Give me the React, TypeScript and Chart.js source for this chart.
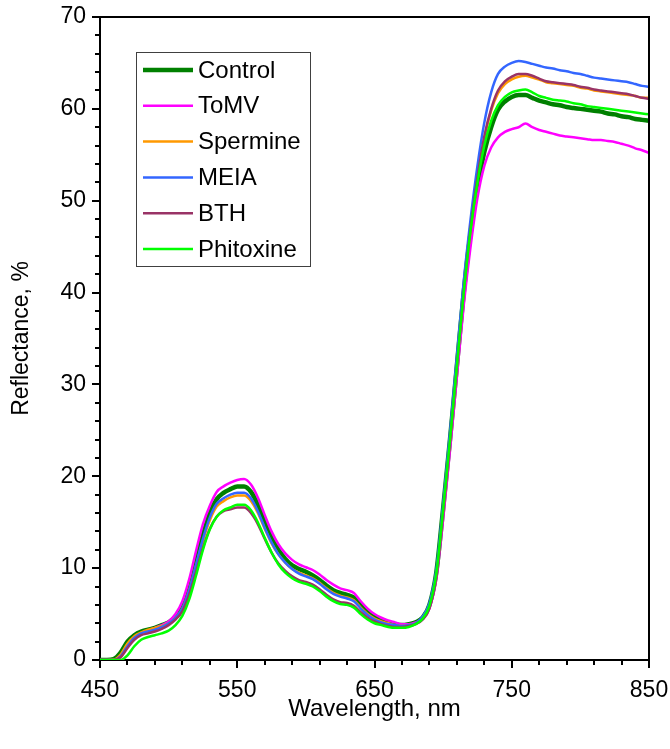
import React, { useEffect, useRef } from "react";
import { Chart, registerables } from "chart.js";

Chart.register(...registerables);

const wavelengths = [
  450, 455, 460, 465, 470, 475, 480, 485, 490, 495,
  500, 505, 510, 515, 520, 525, 530, 535, 540, 545,
  550, 555, 560, 565, 570, 575, 580, 585, 590, 595,
  600, 605, 610, 615, 620, 625, 630, 635, 640, 645,
  650, 655, 660, 665, 670, 675, 680, 685, 690, 695,
  700, 705, 710, 715, 720, 725, 730, 735, 740, 745,
  750, 755, 760, 765, 770, 775, 780, 785, 790, 795,
  800, 805, 810, 815, 820, 825, 830, 835, 840, 845,
  850,
];

const control = [
  0, 0, 0.1, 0.8, 2.0, 2.7, 3.1, 3.3, 3.5, 3.8,
  4.1, 4.7, 5.7, 7.9, 10.8, 13.6, 16.0, 17.5, 18.2, 18.6,
  18.9, 18.9, 18.3, 16.9, 15.0, 13.3, 12.0, 11.0, 10.3, 9.9,
  9.6, 9.2, 8.7, 8.1, 7.6, 7.3, 7.1, 6.8, 6.0, 5.2,
  4.7, 4.4, 4.1, 3.9, 3.8, 3.9, 4.1, 4.6, 6.0, 9.5,
  16.5, 24.0, 32.0, 40.0, 46.5, 51.5, 55.3, 58.0, 59.9, 60.8,
  61.3, 61.5, 61.5, 61.2, 60.9, 60.7, 60.5, 60.4, 60.2, 60.1,
  60.0, 59.9, 59.8, 59.7, 59.5, 59.4, 59.2, 59.1, 58.9, 58.8,
  58.7,
];

const tomv = [
  0, 0, 0, 0.4, 1.4, 2.3, 2.9, 3.2, 3.5, 3.8,
  4.2, 5.0, 6.4, 8.8, 11.9, 14.8, 16.8, 18.3, 18.9, 19.3,
  19.6, 19.7, 19.1, 17.7, 15.8, 14.0, 12.6, 11.6, 10.9, 10.4,
  10.1, 9.8, 9.3, 8.7, 8.2, 7.8, 7.6, 7.3, 6.4, 5.6,
  5.0, 4.6, 4.3, 4.1, 3.9, 3.9, 4.1, 4.5, 5.6, 8.8,
  15.3, 22.8, 30.8, 38.6, 45.0, 50.3, 53.8, 55.8, 56.9, 57.5,
  57.8, 58.0, 58.4, 58.0, 57.7, 57.5, 57.3, 57.1, 57.0, 56.9,
  56.8, 56.7, 56.6, 56.6, 56.5, 56.4, 56.2, 56.0, 55.7, 55.5,
  55.2,
];

const spermine = [
  0, 0, 0.05, 0.6, 1.8, 2.6, 3.0, 3.3, 3.5, 3.7,
  4.0, 4.6, 5.6, 7.6, 10.3, 13.0, 15.2, 16.7, 17.3, 17.7,
  17.9, 17.9, 17.3, 16.0, 14.3, 12.7, 11.5, 10.6, 9.9, 9.5,
  9.2, 8.9, 8.4, 7.8, 7.3, 7.0, 6.8, 6.5, 5.7, 5.0,
  4.5, 4.2, 4.0, 3.8, 3.7, 3.8, 4.0, 4.6, 5.9, 9.3,
  16.3, 23.9, 32.0, 40.2, 46.8, 52.2, 56.7, 59.8, 61.7, 62.7,
  63.2, 63.5, 63.6, 63.4, 63.2, 62.9, 62.8, 62.7, 62.6, 62.5,
  62.3, 62.2, 62.0, 61.9, 61.8, 61.7, 61.6, 61.5, 61.4, 61.2,
  61.2,
];

const meia = [
  0, 0, 0, 0.4, 1.5, 2.4, 2.9, 3.1, 3.3, 3.6,
  4.0, 4.6, 5.6, 7.6, 10.4, 13.2, 15.5, 17.0, 17.6, 18.0,
  18.2, 18.2, 17.6, 16.2, 14.4, 12.8, 11.5, 10.6, 9.9, 9.4,
  9.1, 8.8, 8.3, 7.7, 7.2, 6.9, 6.7, 6.4, 5.6, 4.9,
  4.4, 4.1, 3.9, 3.8, 3.7, 3.8, 4.0, 4.7, 6.2, 9.8,
  17.0, 24.8, 33.0, 41.2, 48.0, 53.8, 58.5, 61.8, 63.8, 64.6,
  65.0, 65.2, 65.1, 64.9, 64.7, 64.5, 64.4, 64.2, 64.1, 63.9,
  63.8, 63.6, 63.4, 63.3, 63.2, 63.1, 63.0, 62.9, 62.7, 62.5,
  62.4,
];

const bth = [
  0, 0, 0, 0.3, 1.3, 2.2, 2.7, 2.9, 3.1, 3.4,
  3.8, 4.4, 5.3, 7.1, 9.6, 12.2, 14.3, 15.6, 16.2, 16.4,
  16.6, 16.6, 16.0, 14.8, 13.2, 11.7, 10.5, 9.7, 9.1, 8.7,
  8.5, 8.2, 7.7, 7.1, 6.6, 6.3, 6.2, 5.9, 5.2, 4.6,
  4.2, 3.9, 3.7, 3.6, 3.6, 3.7, 3.9, 4.4, 5.6, 9.0,
  16.0, 23.6, 31.8, 40.0, 47.0, 52.5, 57.0, 60.0, 62.0, 63.0,
  63.5, 63.8, 63.8, 63.6, 63.3, 63.0, 62.9, 62.8, 62.7, 62.6,
  62.4, 62.3, 62.1, 62.0, 61.9, 61.8, 61.7, 61.6, 61.4, 61.2,
  61.1,
];

const phitoxine = [
  0, 0, 0, 0, 0.5, 1.5, 2.2, 2.5, 2.7, 2.9,
  3.2, 3.8, 4.8, 6.6, 9.2, 12.0, 14.2, 15.6, 16.3, 16.6,
  16.9, 16.9, 16.3, 15.0, 13.3, 11.7, 10.4, 9.5, 8.9, 8.5,
  8.3, 8.0, 7.5, 6.9, 6.4, 6.1, 6.0, 5.7, 5.0, 4.4,
  4.0, 3.8, 3.6, 3.5, 3.5, 3.6, 3.9, 4.5, 5.9, 9.4,
  16.4, 24.0, 32.0, 40.0, 46.8, 52.0, 56.0, 58.7, 60.4, 61.3,
  61.8, 62.0, 62.1, 61.8, 61.4, 61.2, 61.0, 60.9, 60.8, 60.6,
  60.5, 60.3, 60.2, 60.1, 60.0, 59.9, 59.8, 59.7, 59.6, 59.5,
  59.4,
];

const seriesLabels = ["Control", "ToMV", "Spermine", "MEIA", "BTH", "Phitoxine"];
const seriesValues = [control, tomv, spermine, meia, bth, phitoxine];
const seriesColors = ["#008000", "#FF00FF", "#FF9900", "#3366FF", "#993366", "#00FF00"];
const seriesWidths = [4.5, 2.5, 2.5, 2.5, 2.5, 2.5];

const xTickLabels = [450, 550, 650, 750, 850];
const yTickLabels = [0, 10, 20, 30, 40, 50, 60, 70];

const FONT = "'Liberation Sans', Arial, Helvetica, sans-serif";

const framePlugin = {
  id: "frameAndTicks",
  afterDraw(chart: any) {
    const ctx = chart.ctx;
    const { left, right, top, bottom } = chart.chartArea;
    const xs = chart.scales.x;
    const ys = chart.scales.y;
    ctx.save();
    ctx.strokeStyle = "#000";
    ctx.lineWidth = 2;
    ctx.beginPath();
    ctx.moveTo(left, top);
    ctx.lineTo(right, top);
    ctx.lineTo(right, bottom);
    ctx.stroke();
    for (let v = 0; v <= 70; v += 2) {
      const py = Math.round(ys.getPixelForValue(v));
      const len = v % 10 === 0 ? 8 : 5;
      ctx.beginPath();
      ctx.moveTo(left - len, py);
      ctx.lineTo(left, py);
      ctx.stroke();
    }
    for (let w = 450; w <= 850; w += 20) {
      const px = Math.round(xs.getPixelForValue(w));
      const len = (w - 450) % 100 === 0 ? 8 : 5;
      ctx.beginPath();
      ctx.moveTo(px, bottom);
      ctx.lineTo(px, bottom + len);
      ctx.stroke();
    }
    const bx = 136.5, by = 52.5, bw = 174, bh = 214;
    ctx.fillStyle = "#fff";
    ctx.fillRect(bx, by, bw, bh);
    ctx.strokeStyle = "#404040";
    ctx.lineWidth = 1;
    ctx.strokeRect(bx, by, bw, bh);
    ctx.font = `24px ${FONT}`;
    ctx.textBaseline = "middle";
    ctx.textAlign = "left";
    chart.data.datasets.forEach((ds: any, i: number) => {
      const yy = 70 + i * 35.8;
      ctx.strokeStyle = ds.borderColor;
      ctx.lineWidth = ds.borderWidth;
      ctx.beginPath();
      ctx.moveTo(143, yy);
      ctx.lineTo(193, yy);
      ctx.stroke();
      ctx.fillStyle = "#000";
      ctx.fillText(ds.label, 198, yy + 1);
    });
    ctx.restore();
  },
};

export default function App() {
  const canvasRef = useRef<HTMLCanvasElement | null>(null);

  useEffect(() => {
    document.body.style.margin = "0";
    const canvas = canvasRef.current;
    if (!canvas) return;
    const datasets = seriesLabels.map((label, i) => ({
      label,
      data: wavelengths.map((w, j) => ({ x: w, y: seriesValues[i][j] })),
      borderColor: seriesColors[i],
      backgroundColor: seriesColors[i],
      borderWidth: seriesWidths[i],
      pointRadius: 0,
      fill: false,
      cubicInterpolationMode: "monotone" as const,
      order: seriesLabels.length - i,
    }));
    const chart = new Chart(canvas, {
      type: "line",
      data: { datasets },
      options: {
        animation: false,
        responsive: true,
        maintainAspectRatio: false,
        devicePixelRatio: 1,
        layout: { padding: { top: 17, right: 21, left: 0, bottom: 0 } },
        plugins: {
          legend: { display: false },
          tooltip: { enabled: false },
        },
        scales: {
          x: {
            type: "linear",
            min: 450,
            max: 850,
            afterFit: (s: any) => {
              s.height = 89;
              s.paddingLeft = 0;
              s.paddingRight = 0;
            },
            afterBuildTicks: (s: any) => {
              s.ticks = xTickLabels.map((v) => ({ value: v }));
            },
            grid: { display: false, drawTicks: false },
            border: { display: true, color: "#000", width: 2 },
            ticks: {
              padding: 17,
              color: "#000",
              font: { family: FONT, size: 23 },
              maxRotation: 0,
              autoSkip: false,
              callback: (v: any) => String(v),
            },
            title: {
              display: true,
              text: "Wavelength, nm",
              color: "#000",
              font: { family: FONT, size: 24 },
              padding: { top: 4, bottom: 25 },
            },
          },
          y: {
            type: "linear",
            min: 0,
            max: 70,
            afterFit: (s: any) => {
              s.width = 100;
              s.paddingTop = 0;
              s.paddingBottom = 0;
            },
            afterBuildTicks: (s: any) => {
              s.ticks = yTickLabels.map((v) => ({ value: v }));
            },
            grid: { display: false, drawTicks: false },
            border: { display: true, color: "#000", width: 2 },
            ticks: {
              padding: 14,
              color: "#000",
              font: { family: FONT, size: 23 },
              autoSkip: false,
              callback: (v: any) => String(v),
            },
            title: {
              display: true,
              text: "Reflectance, %",
              color: "#000",
              font: { family: FONT, size: 23 },
              padding: { top: 8, bottom: 4 },
            },
          },
        },
      },
      plugins: [framePlugin],
    });
    return () => chart.destroy();
  }, []);

  return (
    <div style={{ width: 670, height: 749, position: "relative" }}>
      <canvas ref={canvasRef} />
    </div>
  );
}
